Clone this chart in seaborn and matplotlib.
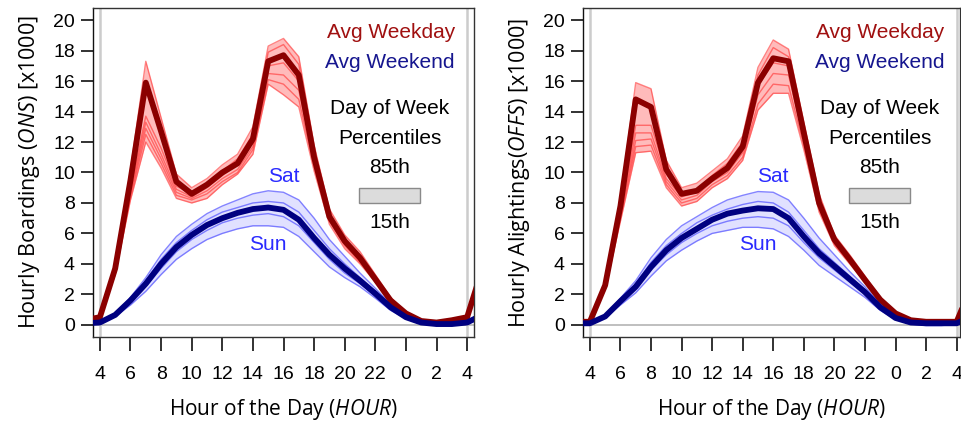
import numpy as np
import pandas as pd
import matplotlib
matplotlib.use("Agg")
import matplotlib.pyplot as plt
from matplotlib.patches import Rectangle
import seaborn as sns

# Hour of day, running from 3am through 5am the next morning (hours past 24 wrap)
hours = list(range(3, 30))
hour_ticks = [4, 6, 8, 10, 12, 14, 16, 18, 20, 22, 24, 26, 28]
hour_tick_labels = ["4", "6", "8", "10", "12", "14", "16", "18", "20", "22", "0", "2", "4"]

# ---- Boardings (ONS), thousands per hour ----
ons_weekday_avg = [0.3, 0.5, 3.7, 9.5, 15.9, 12.7, 9.4, 8.6, 9.2, 10.0, 10.6, 12.2, 17.3,
                   17.7, 16.4, 11.0, 7.1, 5.5, 4.4, 3.0, 1.6, 0.75, 0.25, 0.15, 0.3, 0.5, 3.7]
ons_weekday_days = [
    [0.3, 0.5, 3.9, 10.2, 17.3, 13.6, 9.9, 9.0, 9.6, 10.5, 11.2, 13.0, 18.3,
     18.8, 17.6, 11.8, 7.6, 5.9, 4.8, 3.3, 1.8, 0.85, 0.3, 0.2, 0.3, 0.5, 3.9],
    [0.3, 0.5, 3.6, 9.0, 13.7, 11.6, 9.1, 8.6, 9.2, 10.1, 10.9, 12.5, 17.9,
     18.4, 17.1, 11.4, 7.3, 5.6, 4.5, 3.1, 1.7, 0.8, 0.25, 0.15, 0.3, 0.5, 3.6],
    [0.3, 0.5, 3.5, 8.8, 13.3, 11.2, 8.9, 8.4, 9.0, 9.8, 10.5, 12.0, 17.0,
     17.2, 16.0, 11.0, 7.1, 5.4, 4.3, 3.0, 1.6, 0.75, 0.25, 0.15, 0.3, 0.5, 3.5],
    [0.3, 0.5, 3.5, 8.6, 12.9, 10.9, 8.7, 8.3, 8.8, 9.6, 10.2, 11.7, 16.5,
     16.4, 15.4, 10.7, 6.9, 5.3, 4.2, 2.9, 1.55, 0.7, 0.2, 0.15, 0.3, 0.5, 3.5],
    [0.3, 0.45, 3.4, 8.4, 12.5, 10.6, 8.5, 8.2, 8.6, 9.4, 10.0, 11.5, 16.1,
     15.8, 14.8, 10.4, 6.8, 5.2, 4.1, 2.85, 1.5, 0.7, 0.2, 0.1, 0.25, 0.45, 3.4],
    [0.25, 0.45, 3.3, 8.2, 12.0, 10.3, 8.3, 8.0, 8.3, 9.2, 9.9, 11.2, 15.8,
     15.1, 14.3, 10.1, 6.6, 5.0, 4.0, 2.8, 1.45, 0.65, 0.2, 0.1, 0.25, 0.45, 3.3],
]
ons_weekend_avg = [0.1, 0.15, 0.65, 1.6, 2.7, 4.0, 5.1, 5.9, 6.55, 7.0, 7.35, 7.6, 7.7,
                   7.55, 6.9, 5.7, 4.6, 3.7, 2.9, 2.05, 1.15, 0.5, 0.15, 0.05, 0.05, 0.15, 0.65]
ons_weekend_days = [
    [0.1, 0.15, 0.7, 1.8, 3.1, 4.6, 5.8, 6.6, 7.3, 7.8, 8.2, 8.6, 8.8,
     8.7, 8.2, 7.0, 5.6, 4.5, 3.4, 2.4, 1.35, 0.55, 0.15, 0.05, 0.05, 0.15, 0.7],
    [0.1, 0.15, 0.65, 1.7, 2.9, 4.3, 5.4, 6.2, 6.9, 7.4, 7.7, 8.0, 8.1,
     8.0, 7.4, 6.2, 5.0, 4.0, 3.1, 2.2, 1.25, 0.5, 0.15, 0.05, 0.05, 0.15, 0.65],
    [0.1, 0.15, 0.6, 1.5, 2.5, 3.7, 4.8, 5.6, 6.2, 6.7, 7.0, 7.2, 7.3,
     7.1, 6.5, 5.4, 4.3, 3.4, 2.7, 1.9, 1.05, 0.45, 0.15, 0.05, 0.05, 0.15, 0.6],
    [0.1, 0.1, 0.55, 1.3, 2.2, 3.3, 4.3, 5.0, 5.6, 6.0, 6.3, 6.5, 6.5,
     6.4, 5.8, 4.8, 3.8, 3.1, 2.5, 1.75, 0.95, 0.4, 0.1, -0.05, -0.05, 0.1, 0.55],
]

# ---- Alightings (OFFS), thousands per hour ----
offs_weekday_avg = [0.2, 0.2, 2.6, 7.8, 14.8, 14.3, 10.2, 8.6, 8.8, 9.6, 10.3, 11.7, 15.9,
                    17.5, 17.3, 12.6, 8.0, 5.6, 4.3, 2.95, 1.65, 0.75, 0.3, 0.2, 0.2, 0.2, 2.6]
offs_weekday_days = [
    [0.2, 0.2, 2.8, 8.3, 15.9, 15.5, 10.8, 9.0, 9.3, 10.1, 10.9, 12.4, 16.9,
     18.7, 18.1, 13.3, 8.6, 5.9, 4.6, 3.2, 1.8, 0.8, 0.3, 0.2, 0.2, 0.2, 2.8],
    [0.2, 0.2, 2.5, 7.6, 13.1, 13.1, 9.9, 8.6, 8.9, 9.8, 10.6, 12.0, 16.4,
     18.2, 17.6, 13.0, 8.3, 5.7, 4.4, 3.0, 1.7, 0.75, 0.3, 0.2, 0.2, 0.2, 2.5],
    [0.2, 0.2, 2.5, 7.4, 12.6, 12.6, 9.6, 8.4, 8.7, 9.6, 10.3, 11.6, 15.7,
     17.2, 17.0, 12.6, 8.0, 5.5, 4.3, 2.95, 1.65, 0.7, 0.25, 0.2, 0.2, 0.2, 2.5],
    [0.2, 0.2, 2.4, 7.2, 12.1, 12.2, 9.4, 8.2, 8.5, 9.4, 10.0, 11.3, 15.1,
     16.5, 16.4, 12.2, 7.8, 5.4, 4.2, 2.9, 1.6, 0.7, 0.25, 0.15, 0.2, 0.2, 2.4],
    [0.2, 0.2, 2.4, 7.0, 11.7, 11.8, 9.2, 8.0, 8.3, 9.2, 9.8, 11.0, 14.5,
     15.8, 15.7, 11.8, 7.6, 5.3, 4.1, 2.85, 1.55, 0.65, 0.25, 0.15, 0.2, 0.2, 2.4],
    [0.2, 0.2, 2.3, 6.8, 11.3, 11.4, 9.0, 7.8, 8.1, 9.0, 9.6, 10.8, 14.1,
     15.2, 15.2, 11.5, 7.4, 5.2, 4.0, 2.8, 1.5, 0.65, 0.2, 0.15, 0.2, 0.2, 2.3],
]
offs_weekend_avg = [0.1, 0.1, 0.55, 1.55, 2.5, 3.8, 4.9, 5.7, 6.3, 6.9, 7.3, 7.5, 7.65,
                    7.6, 7.0, 5.8, 4.7, 3.85, 3.0, 2.15, 1.15, 0.45, 0.15, 0.1, 0.1, 0.1, 0.55]
offs_weekend_days = [
    [0.1, 0.1, 0.6, 1.75, 2.9, 4.4, 5.6, 6.5, 7.1, 7.7, 8.2, 8.5, 8.75,
     8.7, 8.2, 7.0, 5.7, 4.6, 3.5, 2.5, 1.35, 0.5, 0.15, 0.1, 0.1, 0.1, 0.6],
    [0.1, 0.1, 0.55, 1.65, 2.7, 4.1, 5.2, 6.0, 6.7, 7.2, 7.6, 7.9, 8.1,
     8.0, 7.4, 6.2, 5.0, 4.1, 3.2, 2.25, 1.25, 0.5, 0.15, 0.1, 0.1, 0.1, 0.55],
    [0.1, 0.1, 0.5, 1.45, 2.35, 3.6, 4.6, 5.4, 6.0, 6.5, 6.8, 7.0, 7.1,
     7.0, 6.5, 5.4, 4.4, 3.6, 2.8, 2.0, 1.05, 0.4, 0.15, 0.05, 0.05, 0.1, 0.5],
    [0.05, 0.05, 0.45, 1.3, 2.1, 3.2, 4.2, 4.9, 5.5, 6.0, 6.2, 6.4, 6.4,
     6.3, 5.8, 4.9, 3.9, 3.2, 2.5, 1.8, 0.95, 0.35, 0.05, -0.05, -0.05, 0.05, 0.45],
]

sns.set_theme(style="white")
plt.rcParams["font.family"] = ["Liberation Sans", "DejaVu Sans"]
plt.rcParams["mathtext.fontset"] = "custom"
plt.rcParams["mathtext.rm"] = "Open Sans"
plt.rcParams["mathtext.it"] = "Open Sans:italic"
plt.rcParams["text.color"] = "black"
plt.rcParams["axes.labelcolor"] = "black"
plt.rcParams["xtick.color"] = "black"
plt.rcParams["ytick.color"] = "black"

WD_DARK = "#8b0000"
WD_LINE = "#ff3030"
WE_DARK = "#000080"
WE_LINE = "#5050ff"
TXT = 15


def draw_group(ax, avg, days, dark, light, fill, fill_alpha, line_alpha):
    arr = np.array(days)
    ax.fill_between(hours, arr.min(axis=0), arr.max(axis=0), color=fill,
                    alpha=fill_alpha, linewidth=0, zorder=2)
    for row in days:
        df = pd.DataFrame({"hour": hours, "value": row})
        sns.lineplot(data=df, x="hour", y="value", ax=ax, color=light,
                     linewidth=1.0, alpha=line_alpha, estimator=None, zorder=3)
    df = pd.DataFrame({"hour": hours, "value": avg})
    sns.lineplot(data=df, x="hour", y="value", ax=ax, color=dark,
                 linewidth=4.2, estimator=None, zorder=4)


def draw_panel(ax, wd_avg, wd_days, we_avg, we_days, ylabel, xmax):
    ax.axhline(0, color="#b4b4b4", linewidth=1.2, zorder=1)
    ax.axvline(4, color="#cccccc", linewidth=1.8, zorder=1)
    ax.axvline(28, color="#cccccc", linewidth=1.8, zorder=1)

    draw_group(ax, wd_avg, wd_days, WD_DARK, WD_LINE, "#ff2020", 0.3, 0.6)
    draw_group(ax, we_avg, we_days, WE_DARK, WE_LINE, "#4848ff", 0.16, 0.7)

    ax.set_xlim(3.55, xmax)
    ax.set_ylim(-0.8, 20.8)
    ax.set_xticks(hour_ticks)
    ax.set_xticklabels(hour_tick_labels)
    ax.set_yticks(range(0, 21, 2))
    ax.tick_params(axis="y", direction="out", length=9, width=1.3, pad=4,
                   labelsize=14, color="#222222", labelcolor="black", left=True)
    ax.tick_params(axis="x", direction="out", length=10, width=1.3, pad=11,
                   labelsize=14, color="#222222", labelcolor="black", bottom=True)
    for side, sp in ax.spines.items():
        sp.set_color("#333333")
        sp.set_linewidth(1.0)
        sp.set_visible(True)
    ax.spines["left"].set_color("#111111")

    ax.set_xlabel(r"Hour of the Day ($\mathit{HOUR}$)", fontsize=15,
                  family="Open Sans", labelpad=10)
    ax.set_ylabel(ylabel, fontsize=15.5, family="Open Sans", labelpad=8)

    ax.text(27.2, 19.2, "Avg Weekday", color="#a01010", fontsize=TXT,
            ha="right", va="center")
    ax.text(27.2, 17.25, "Avg Weekend", color="#16168f", fontsize=TXT,
            ha="right", va="center")
    ax.text(22.95, 14.2, "Day of Week", fontsize=TXT, ha="center", va="center")
    ax.text(22.95, 12.25, "Percentiles", fontsize=TXT, ha="center", va="center")
    ax.text(22.95, 10.3, "85th", fontsize=TXT, ha="center", va="center")
    ax.text(22.95, 6.75, "15th", fontsize=TXT, ha="center", va="center")
    ax.add_patch(Rectangle((20.95, 8.0), 4.0, 1.0, facecolor="#dcdcdc",
                           edgecolor="#8a8a8a", linewidth=1.0, zorder=5))
    ax.text(16.0, 9.75, "Sat", color="#2a2aff", fontsize=TXT,
            ha="center", va="center")
    ax.text(15.0, 5.25, "Sun", color="#2a2aff", fontsize=TXT,
            ha="center", va="center")


fig = plt.figure(figsize=(9.61, 4.28), dpi=100)
ax1 = fig.add_axes([93 / 961, 1 - 337 / 428, 381 / 961, 329 / 428])
ax2 = fig.add_axes([583 / 961, 1 - 337 / 428, 377 / 961, 329 / 428])

draw_panel(ax1, ons_weekday_avg, ons_weekday_days, ons_weekend_avg, ons_weekend_days,
           r"Hourly Boardings ($\mathit{ONS}$) [x1000]", 28.45)
draw_panel(ax2, offs_weekday_avg, offs_weekday_days, offs_weekend_avg, offs_weekend_days,
           r"Hourly Alightings($\mathit{OFFS}$) [x1000]", 28.22)

fig.savefig("out.png", dpi=100)
